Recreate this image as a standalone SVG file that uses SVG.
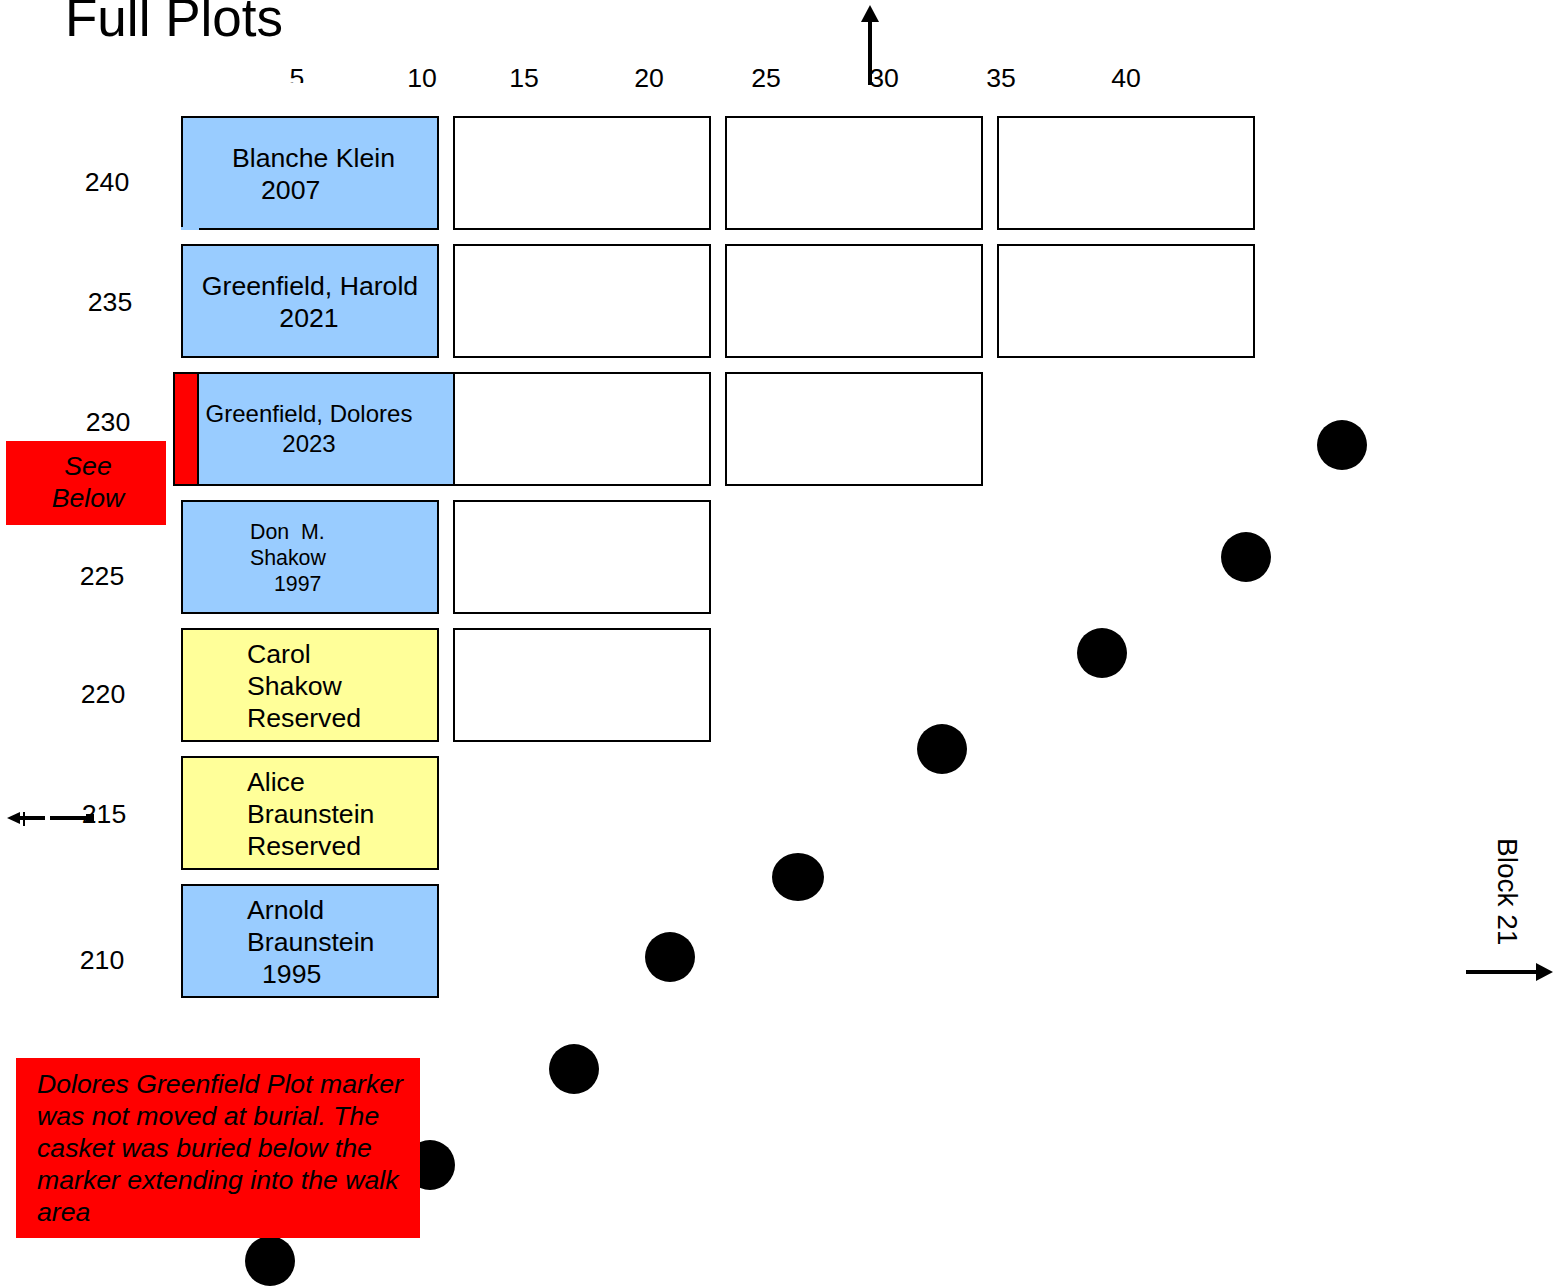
<svg xmlns="http://www.w3.org/2000/svg" width="1560" height="1288" viewBox="0 0 1560 1288">
<style>
text{font-family:"Liberation Sans",Arial,sans-serif;fill:#000}
.t{font-size:26.67px}
.num{font-size:26.67px}
.box{stroke:#000;stroke-width:2}
.blue{fill:#99CCFF}
.yel{fill:#FFFF99}
.empty{fill:#fff}
.dot{fill:#000}
.it{font-style:italic;font-size:26.67px}
.ln{stroke:#000;stroke-width:4}
</style>
<defs>
<clipPath id="clip5"><rect x="280" y="60" width="40" height="23"/></clipPath>
</defs>
<rect width="1560" height="1288" fill="#fff"/>
<text x="65" y="36" style="font-size:53px">Full Plots</text>
<g id="colnums" class="num">
<text x="297" y="87" text-anchor="middle" clip-path="url(#clip5)">5</text>
<text x="422" y="87" text-anchor="middle">10</text>
<text x="524" y="87" text-anchor="middle">15</text>
<text x="649" y="87" text-anchor="middle">20</text>
<text x="766" y="87" text-anchor="middle">25</text>
<text x="884" y="87" text-anchor="middle">30</text>
<text x="1001" y="87" text-anchor="middle">35</text>
<text x="1126" y="87" text-anchor="middle">40</text>
</g>
<g id="rownums" class="num">
<text x="107" y="191" text-anchor="middle">240</text>
<text x="110" y="311" text-anchor="middle">235</text>
<text x="108" y="431" text-anchor="middle">230</text>
<text x="102" y="585" text-anchor="middle">225</text>
<text x="103" y="703" text-anchor="middle">220</text>
<text x="104" y="823" text-anchor="middle">215</text>
<text x="102" y="969" text-anchor="middle">210</text>
</g>
<g id="empty-plots">
<rect class="box empty" x="454" y="117" width="256" height="112"/>
<rect class="box empty" x="726" y="117" width="256" height="112"/>
<rect class="box empty" x="998" y="117" width="256" height="112"/>
<rect class="box empty" x="454" y="245" width="256" height="112"/>
<rect class="box empty" x="726" y="245" width="256" height="112"/>
<rect class="box empty" x="998" y="245" width="256" height="112"/>
<rect class="box empty" x="454" y="373" width="256" height="112"/>
<rect class="box empty" x="726" y="373" width="256" height="112"/>
<rect class="box empty" x="454" y="501" width="256" height="112"/>
<rect class="box empty" x="454" y="629" width="256" height="112"/>
</g>
<g id="blanche">
<rect class="box blue" x="182" y="117" width="256" height="112"/>
<rect x="181" y="227" width="18" height="3" fill="#99CCFF"/>
<text class="t" x="232" y="167">Blanche Klein</text>
<text class="t" x="261" y="199">2007</text>
</g>
<g id="harold">
<rect class="box blue" x="182" y="245" width="256" height="112"/>
<text class="t" x="310" y="295" text-anchor="middle">Greenfield, Harold</text>
<text class="t" x="309" y="327" text-anchor="middle">2021</text>
</g>
<g id="dolores">
<rect class="box blue" x="174" y="373" width="280" height="112"/>
<rect x="175" y="374" width="23" height="110" fill="#FF0000"/>
<line x1="198" y1="373" x2="198" y2="485" stroke="#000" stroke-width="2"/>
<text x="309" y="422" text-anchor="middle" style="font-size:24px">Greenfield, Dolores</text>
<text x="309" y="452" text-anchor="middle" style="font-size:24px">2023</text>
</g>
<g id="don">
<rect class="box blue" x="182" y="501" width="256" height="112"/>
<text x="250" y="539" style="font-size:21.33px" xml:space="preserve">Don  M.</text>
<text x="250" y="565" style="font-size:21.33px">Shakow</text>
<text x="274" y="591" style="font-size:21.33px">1997</text>
</g>
<g id="carol">
<rect class="box yel" x="182" y="629" width="256" height="112"/>
<text class="t" x="247" y="663">Carol</text>
<text class="t" x="247" y="695">Shakow</text>
<text class="t" x="247" y="727">Reserved</text>
</g>
<g id="alice">
<rect class="box yel" x="182" y="757" width="256" height="112"/>
<text class="t" x="247" y="791">Alice</text>
<text class="t" x="247" y="823">Braunstein</text>
<text class="t" x="247" y="855">Reserved</text>
</g>
<g id="arnold">
<rect class="box blue" x="182" y="885" width="256" height="112"/>
<text class="t" x="247" y="919">Arnold</text>
<text class="t" x="247" y="951">Braunstein</text>
<text class="t" x="262" y="983">1995</text>
</g>
<g id="see-below">
<rect x="6" y="441" width="160" height="84" fill="#FF0000"/>
<text class="it" x="88" y="475" text-anchor="middle">See</text>
<text class="it" x="88" y="507" text-anchor="middle">Below</text>
</g>
<g id="dots">
<circle class="dot" cx="1342" cy="445" r="25"/>
<circle class="dot" cx="1246" cy="557" r="25"/>
<circle class="dot" cx="1102" cy="653" r="25"/>
<circle class="dot" cx="942" cy="749" r="25"/>
<ellipse class="dot" cx="798" cy="877" rx="26" ry="24"/>
<circle class="dot" cx="670" cy="957" r="25"/>
<circle class="dot" cx="574" cy="1069" r="25"/>
<circle class="dot" cx="430" cy="1165" r="25"/>
<circle class="dot" cx="270" cy="1261" r="25"/>
</g>
<g id="note">
<rect x="16" y="1058" width="404" height="180" fill="#FF0000"/>
<text class="it" x="37" y="1093">Dolores Greenfield Plot marker</text>
<text class="it" x="37" y="1125">was not moved at burial. The</text>
<text class="it" x="37" y="1157">casket was buried below the</text>
<text class="it" x="37" y="1189">marker extending into the walk</text>
<text class="it" x="37" y="1221">area</text>
</g>
<text x="1498" y="838" transform="rotate(90 1498 838)" style="font-size:28px">Block 21</text>
<g id="connectors">
<line class="ln" x1="870" y1="85" x2="870" y2="20"/>
<polygon points="870,5 879,22 861,22" fill="#000"/>
<line class="ln" x1="1466" y1="972" x2="1538" y2="972"/>
<polygon points="1553,972 1536,963 1536,981" fill="#000"/>
<line class="ln" x1="92" y1="818" x2="18" y2="818" stroke-dasharray="42,5"/>
<rect x="86" y="814" width="8" height="9" fill="#000"/>
<polygon points="7,818 20,812 20,824" fill="#000"/>
<line x1="24" y1="812" x2="24" y2="826" stroke="#000" stroke-width="2"/>
</g>
</svg>
